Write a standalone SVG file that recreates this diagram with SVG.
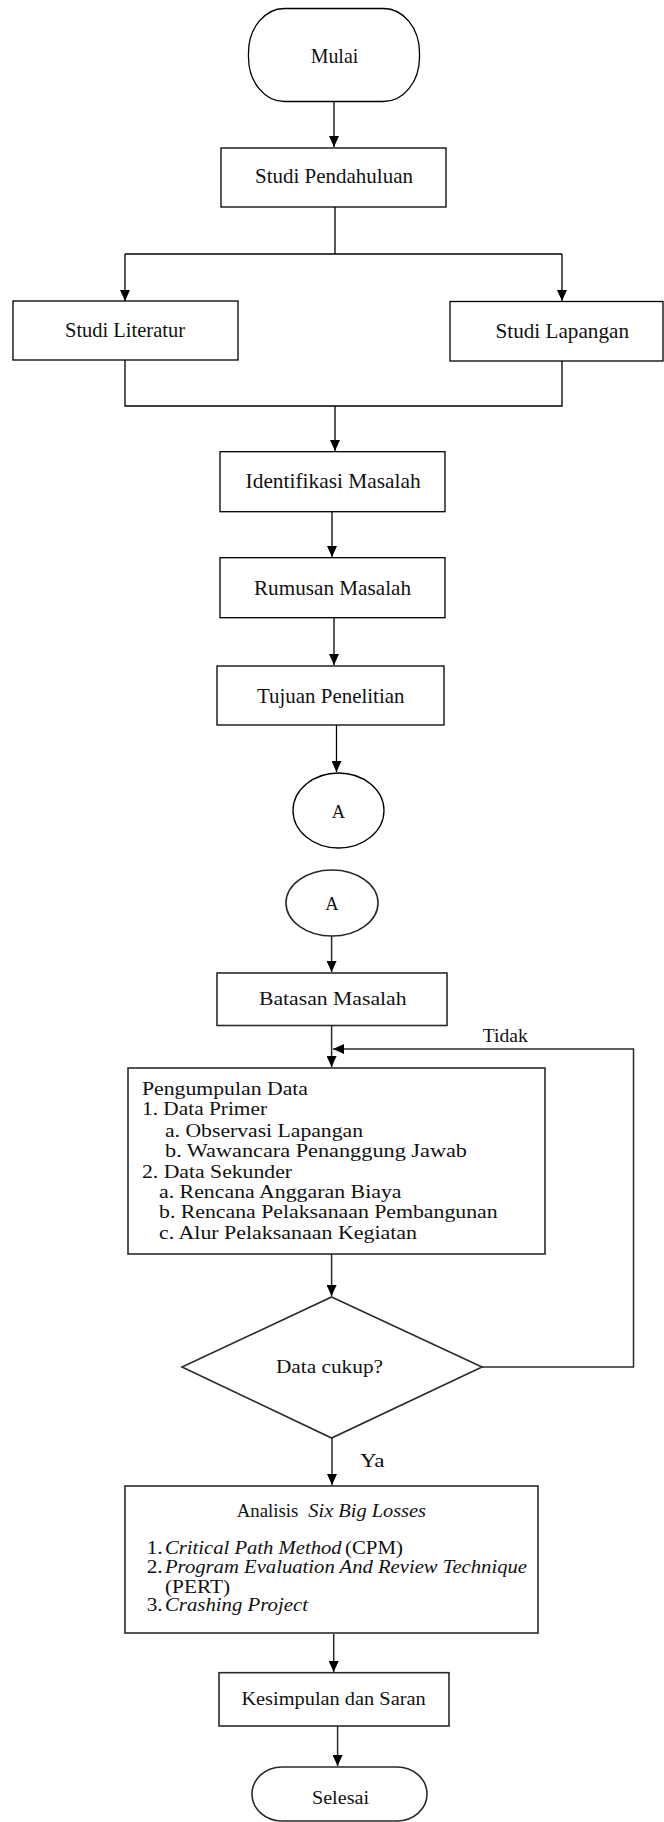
<svg xmlns="http://www.w3.org/2000/svg" width="664" height="1822" viewBox="0 0 664 1822">
<style>
.n{fill:#fff;stroke:#000;stroke-width:1.3}
.m{fill:#fff;stroke:#2a2a2a;stroke-width:1.6}
.t{font-family:"Liberation Serif","Times New Roman",serif;font-size:21px;fill:#111}
.s{font-family:"Liberation Serif","Times New Roman",serif;font-size:18.5px;fill:#111}
.l{font-family:"Liberation Serif","Times New Roman",serif;font-size:18px;fill:#111}
.i{font-style:italic}
.c{text-anchor:middle}
.e{fill:none;stroke:#000;stroke-width:1.3}
.f{fill:none;stroke:#2a2a2a;stroke-width:1.5}
</style>
<defs>
<marker id="ah" markerUnits="userSpaceOnUse" markerWidth="12" markerHeight="10" refX="11" refY="5" orient="auto">
<path d="M0,0 L11,5 L0,10 z" fill="#000"/>
</marker>
</defs>
<g id="connectors">
<line class="e" x1="334" y1="102" x2="334" y2="147" marker-end="url(#ah)"/>
<polyline class="e" points="335,207 335,254"/>
<polyline class="e" points="125,254 562,254"/>
<line class="e" x1="125" y1="254" x2="125" y2="301" marker-end="url(#ah)"/>
<line class="e" x1="562" y1="254" x2="562" y2="301" marker-end="url(#ah)"/>
<polyline class="e" points="125,360 125,406 562,406 562,361"/>
<line class="e" x1="335" y1="406" x2="335" y2="451" marker-end="url(#ah)"/>
<line class="e" x1="332" y1="512" x2="332" y2="557" marker-end="url(#ah)"/>
<line class="e" x1="334" y1="618" x2="334" y2="665" marker-end="url(#ah)"/>
<line class="e" x1="336.5" y1="725" x2="336.5" y2="772" marker-end="url(#ah)"/>
<line class="f" x1="331.6" y1="936" x2="331.6" y2="972" marker-end="url(#ah)"/>
<line class="f" x1="331.6" y1="1026" x2="331.6" y2="1067" marker-end="url(#ah)"/>
<polyline class="f" points="482,1367 633.5,1367 633.5,1049 333,1049" marker-end="url(#ah)"/>
<line class="f" x1="331.6" y1="1254" x2="331.6" y2="1296" marker-end="url(#ah)"/>
<line class="f" x1="332" y1="1438" x2="332" y2="1485" marker-end="url(#ah)"/>
<line class="f" x1="333.7" y1="1634" x2="333.7" y2="1672" marker-end="url(#ah)"/>
<line class="f" x1="337.6" y1="1726" x2="337.6" y2="1766" marker-end="url(#ah)"/>
<text class="s" x="482.7" y="1041.7" textLength="45" lengthAdjust="spacingAndGlyphs">Tidak</text>
<text class="s" x="360" y="1466.7" textLength="24.6" lengthAdjust="spacingAndGlyphs">Ya</text>
</g>
<g id="mulai">
<rect class="n" x="248.5" y="8.5" width="171" height="93" rx="36" ry="44"/>
<text class="t" x="310.7" y="62.7" textLength="47.6" lengthAdjust="spacingAndGlyphs">Mulai</text>
</g>
<g id="studi-pendahuluan">
<rect class="n" x="221" y="148" width="225" height="59"/>
<text class="t" x="255" y="183" textLength="158" lengthAdjust="spacingAndGlyphs">Studi  Pendahuluan</text>
</g>
<g id="studi-literatur">
<rect class="n" x="13" y="301" width="225" height="59"/>
<text class="t" x="65" y="337" textLength="120" lengthAdjust="spacingAndGlyphs">Studi  Literatur</text>
</g>
<g id="studi-lapangan">
<rect class="n" x="450" y="301.5" width="213" height="59.5"/>
<text class="t" x="495.5" y="338" textLength="133.5" lengthAdjust="spacingAndGlyphs">Studi  Lapangan</text>
</g>
<g id="identifikasi">
<rect class="n" x="220" y="451.7" width="225" height="60"/>
<text class="t" x="245.6" y="488" textLength="175" lengthAdjust="spacingAndGlyphs">Identifikasi  Masalah</text>
</g>
<g id="rumusan">
<rect class="n" x="220" y="557.7" width="225" height="60"/>
<text class="t" x="254" y="595" textLength="157" lengthAdjust="spacingAndGlyphs">Rumusan  Masalah</text>
</g>
<g id="tujuan">
<rect class="n" x="217" y="666" width="227" height="59"/>
<text class="t" x="257" y="702.7" textLength="147.5" lengthAdjust="spacingAndGlyphs">Tujuan  Penelitian</text>
</g>
<g id="connector-a1">
<ellipse class="n" cx="338.5" cy="810.5" rx="45.5" ry="37.5"/>
<text class="s c" x="338.5" y="818">A</text>
</g>
<g id="connector-a2">
<ellipse class="m" cx="332" cy="903" rx="46" ry="33"/>
<text class="s c" x="332" y="909.5">A</text>
</g>
<g id="batasan">
<rect class="m" x="217" y="973" width="230" height="52.5"/>
<text class="s" x="259" y="1005" textLength="147.5" lengthAdjust="spacingAndGlyphs">Batasan Masalah</text>
</g>
<g id="pengumpulan">
<rect class="m" x="128" y="1068" width="417" height="186"/>
<text class="l" x="142" y="1095" textLength="166" lengthAdjust="spacingAndGlyphs">Pengumpulan  Data</text>
<text class="l" x="142" y="1115" textLength="125" lengthAdjust="spacingAndGlyphs">1. Data Primer</text>
<text class="l" x="165" y="1136.7" textLength="198" lengthAdjust="spacingAndGlyphs">a. Observasi  Lapangan</text>
<text class="l" x="165" y="1156.7" textLength="302" lengthAdjust="spacingAndGlyphs">b. Wawancara Penanggung  Jawab</text>
<text class="l" x="142" y="1177.5" textLength="150" lengthAdjust="spacingAndGlyphs">2. Data Sekunder</text>
<text class="l" x="159" y="1198" textLength="242.5" lengthAdjust="spacingAndGlyphs">a. Rencana  Anggaran  Biaya</text>
<text class="l" x="159" y="1218" textLength="338.6" lengthAdjust="spacingAndGlyphs">b. Rencana  Pelaksanaan  Pembangunan</text>
<text class="l" x="159" y="1239" textLength="258" lengthAdjust="spacingAndGlyphs">c. Alur  Pelaksanaan  Kegiatan</text>
</g>
<g id="data-cukup">
<polygon class="m" points="331.6,1297 482,1367 331.6,1438 182,1367"/>
<text class="s" x="276" y="1373" textLength="107" lengthAdjust="spacingAndGlyphs">Data cukup?</text>
</g>
<g id="analisis">
<rect class="m" x="125" y="1486" width="413" height="147"/>
<text class="s" x="236.7" y="1517.3" textLength="61.6" lengthAdjust="spacingAndGlyphs">Analisis</text>
<text class="s i" x="308.3" y="1517.3" textLength="117.7" lengthAdjust="spacingAndGlyphs">Six Big Losses</text>
<text class="l" x="146.7" y="1554" textLength="16" lengthAdjust="spacingAndGlyphs">1.</text>
<text class="l i" x="165" y="1554" textLength="176.7" lengthAdjust="spacingAndGlyphs">Critical Path Method</text>
<text class="l" x="345" y="1554" textLength="58" lengthAdjust="spacingAndGlyphs">(CPM)</text>
<text class="l" x="146.7" y="1573" textLength="16" lengthAdjust="spacingAndGlyphs">2.</text>
<text class="l i" x="165" y="1573" textLength="362" lengthAdjust="spacingAndGlyphs">Program Evaluation And Review Technique</text>
<text class="l" x="165" y="1593" textLength="65" lengthAdjust="spacingAndGlyphs">(PERT)</text>
<text class="l" x="146.7" y="1610.7" textLength="16" lengthAdjust="spacingAndGlyphs">3.</text>
<text class="l i" x="165" y="1610.7" textLength="143" lengthAdjust="spacingAndGlyphs">Crashing Project</text>
</g>
<g id="kesimpulan">
<rect class="m" x="219" y="1672.7" width="230" height="53.3"/>
<text class="s" x="241.4" y="1705" textLength="184.3" lengthAdjust="spacingAndGlyphs">Kesimpulan  dan Saran</text>
</g>
<g id="selesai">
<rect class="m" x="252" y="1767" width="175" height="54" rx="30" ry="27"/>
<text class="s" x="312" y="1804" textLength="57" lengthAdjust="spacingAndGlyphs">Selesai</text>
</g>
</svg>
